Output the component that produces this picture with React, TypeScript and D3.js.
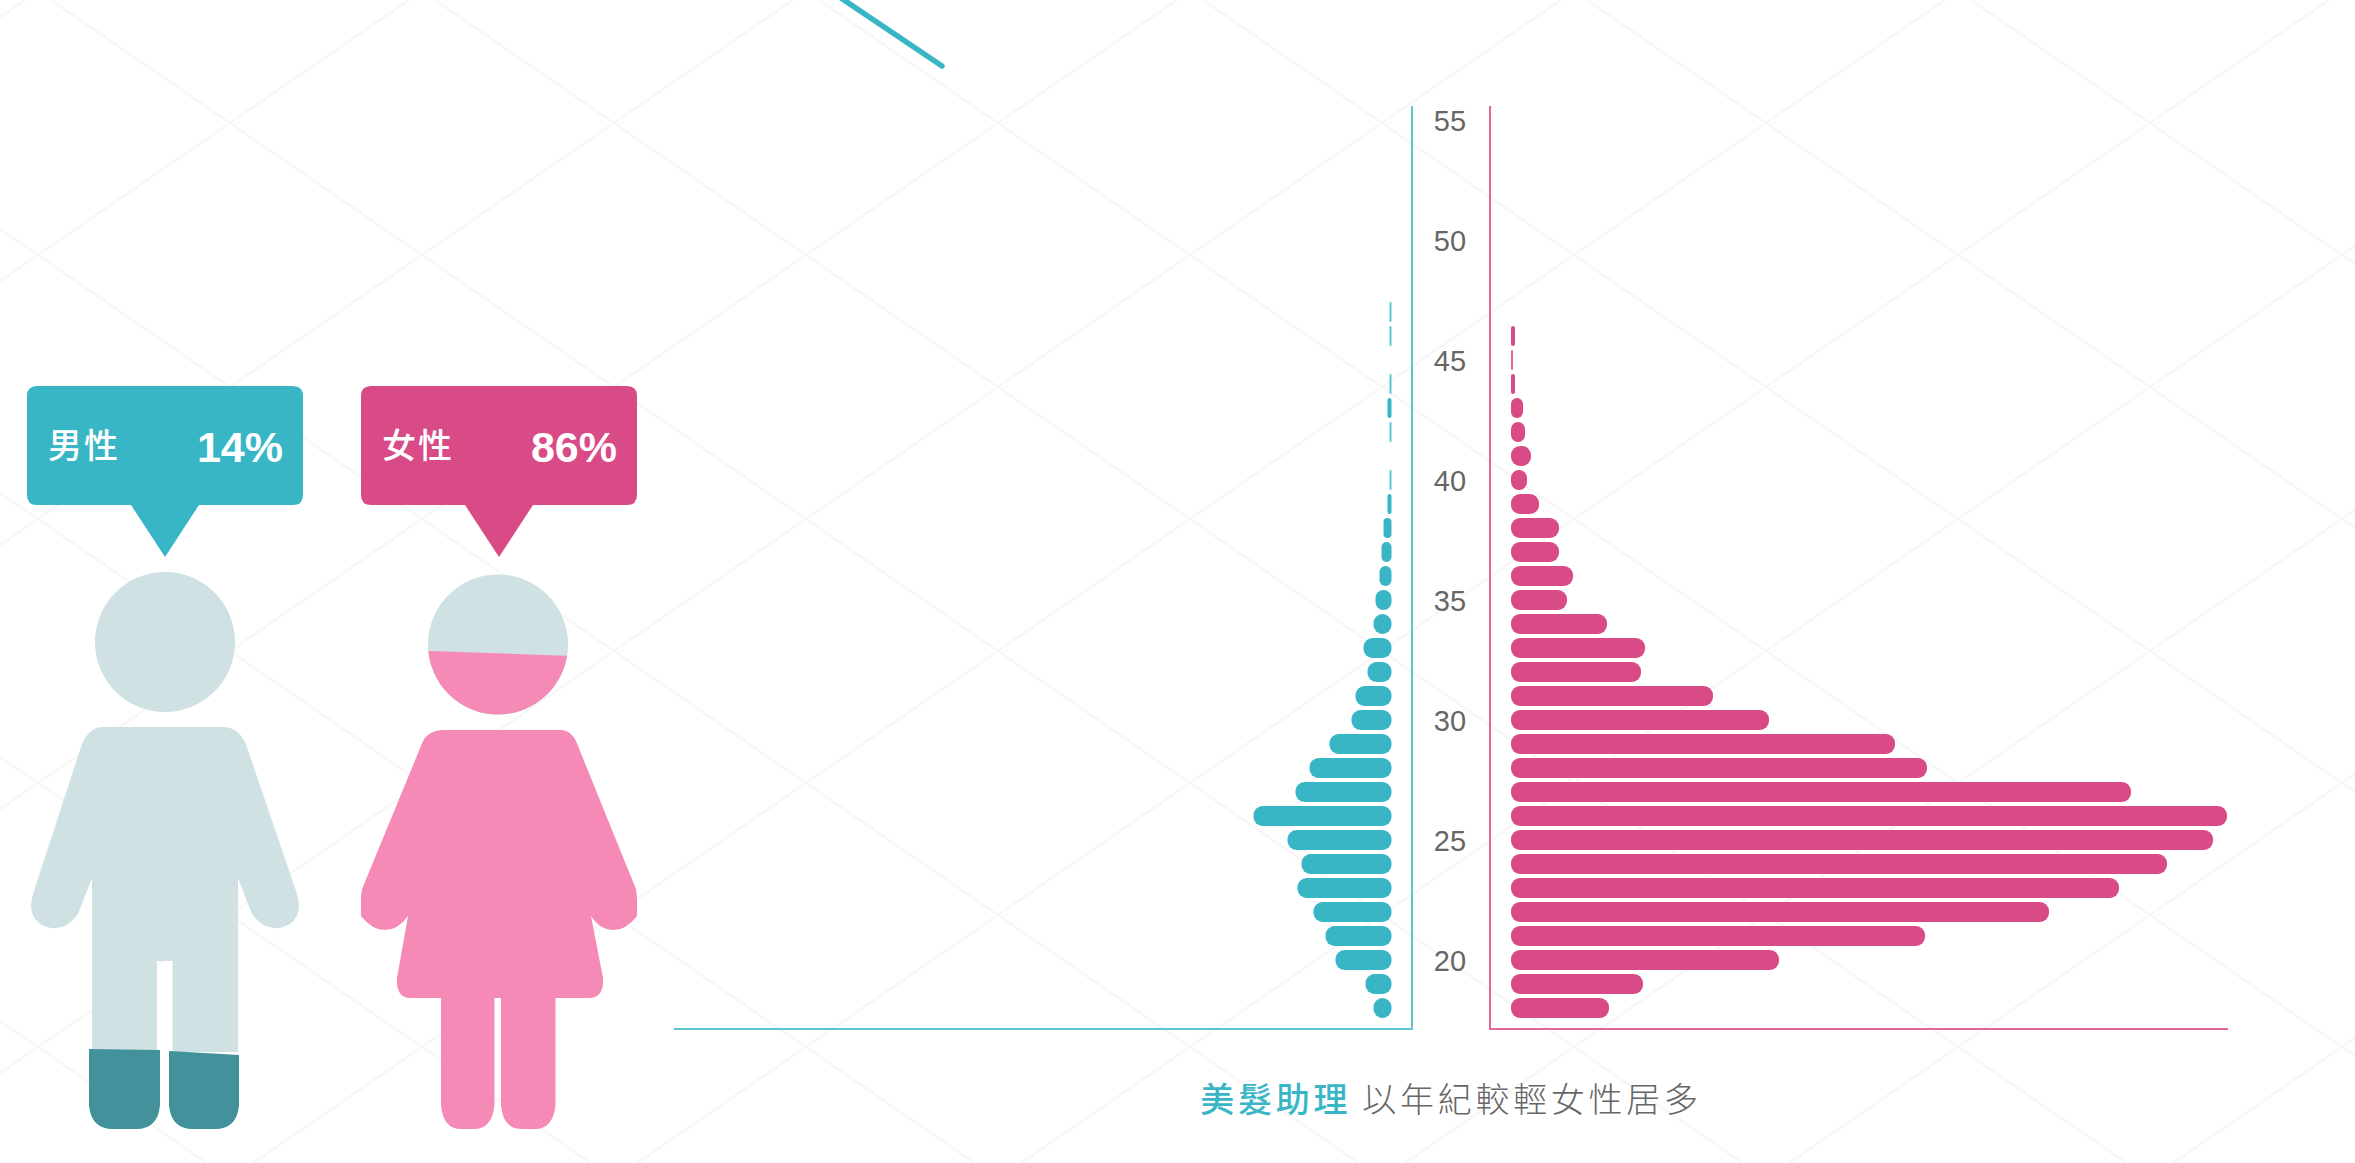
import React from "react";
import * as d3 from "d3";

const ages = [18,19,20,21,22,23,24,25,26,27,28,29,30,31,32,33,34,35,36,37,38,39,40,41,42,43,44,45,46,47];
const maleCounts = [9,13,28,33,39,47,45,52,69,48,41,31,20,18,12,14,9,8,6,5,4,2,1,0,1,2,1,0,1,1];
const femaleCounts = [49,66,134,207,269,304,328,351,358,310,208,192,129,101,65,67,48,28,31,24,24,14,8,10,7,6,2,1,2,0];
const ageTicks = [20,25,30,35,40,45,50,55];
const maleLabel = "男性";
const femaleLabel = "女性";
const maleShare = 14;
const femaleShare = 86;
const captionLead = "美髮助理";
const captionRest = " 以年紀較輕女性居多";

const TEAL = "#39b6c6";
const PINK = "#d94b86";
const TEAL_AXIS = "#5cc4d2";
const PINK_AXIS = "#e2689b";
const LIGHT = "#cfe1e3";
const SOFT_PINK = "#f58ab7";
const DARK_TEAL = "#42919b";

const y = d3.scaleLinear().domain([20, 55]).range([960, 120]);
const w = d3.scaleLinear().domain([0, 369]).range([0, 738]);
const fillY = d3.scaleLinear().domain([0, 100]).range([1129, 572]);

const manBody =
  "M103 727 L223 727 Q241 727 248 750 L297 894 Q303 914 290 924 Q268 936 252 914 L238 878 L238 1052 L172.5 1052 L172.5 961 L157 961 L157 1052 L92 1052 L92 878 L78 914 Q62 936 40 924 Q27 914 33 894 L80 750 Q87 727 103 727 Z";
const womanBody =
  "M442 730 L562 730 Q571 731 576 741 L635.5 888 Q637 892 637 900 L637 916 Q626 930 614 930 Q600 930 591 916 L603 978 Q604 998 589 998 L555.5 998 L555.5 1105 Q553 1129 535 1129 L521 1129 Q503 1129 501 1105 L501 998 L494.5 998 L494.5 1105 Q492 1129 474 1129 L461 1129 Q443 1129 441 1105 L441 998 L410 998 Q396 998 397 978 L408 916 Q398 930 385 930 Q372 930 361 916 L361 900 Q361 892 362.5 888 L423 741 Q428 731 442 730 Z";

function boot(x0: number, x1: number, yTop0: number, yTop1: number) {
  const b = 1129;
  const r = 24;
  return `M${x0} ${yTop0} L${x1} ${yTop1} L${x1} ${b - r} Q${x1 - 2} ${b} ${x1 - r} ${b} L${x0 + r} ${b} Q${x0 + 2} ${b} ${x0} ${b - r} Z`;
}

function Bubble({ x, color, label, share }: { x: number; color: string; label: string; share: number }) {
  const cx = x + 138;
  const path = d3.path();
  const r = 10, top = 386, bot = 505, wd = 276;
  path.moveTo(x + r, top);
  path.lineTo(x + wd - r, top);
  path.quadraticCurveTo(x + wd, top, x + wd, top + r);
  path.lineTo(x + wd, bot - r);
  path.quadraticCurveTo(x + wd, bot, x + wd - r, bot);
  path.lineTo(cx + 34, bot);
  path.lineTo(cx, 557);
  path.lineTo(cx - 34, bot);
  path.lineTo(x + r, bot);
  path.quadraticCurveTo(x, bot, x, bot - r);
  path.lineTo(x, top + r);
  path.quadraticCurveTo(x, top, x + r, top);
  path.closePath();
  return (
    <g>
      <path d={path.toString()} fill={color} />
      <text x={x + 21} y={458} fontSize={34} fontWeight={500} fill="#fff" letterSpacing={2}
        fontFamily="'Noto Sans CJK TC', sans-serif">{label}</text>
      <text x={x + 256} y={462} fontSize={43} fontWeight={700} fill="#fff" textAnchor="end"
        fontFamily="'Liberation Sans', Arial, sans-serif">{share}%</text>
    </g>
  );
}

export default function App() {
  const manCut = fillY(maleShare);
  const womanCut = fillY(femaleShare);
  return (
    <svg width={2355} height={1163} viewBox="0 0 2355 1163"
      style={{ position: "absolute", left: 0, top: 0, display: "block", background: "#fff" }}>
      <defs>
        <pattern id="lattice" patternUnits="userSpaceOnUse" width={384} height={264} x={38} y={255}>
          <path d="M0 0 L192 132 L384 0 M0 264 L192 132 L384 264" fill="none" stroke="#f7f7f7" strokeWidth={2.5} />
        </pattern>
        <clipPath id="womanHeadCut">
          <polygon points={`400,${womanCut} 600,${womanCut + 7} 600,740 400,740`} />
        </clipPath>
      </defs>
      <rect width={2355} height={1163} fill="url(#lattice)" />

      <line x1={838} y1={-4} x2={942} y2={66} stroke={TEAL} strokeWidth={5.5} strokeLinecap="round" />

      <Bubble x={27} color={TEAL} label={maleLabel} share={maleShare} />
      <Bubble x={361} color={PINK} label={femaleLabel} share={femaleShare} />

      <circle cx={165} cy={642} r={70} fill={LIGHT} />
      <path d={manBody} fill={LIGHT} />
      <path d={boot(89, 160, manCut - 2, manCut - 1)} fill={DARK_TEAL} />
      <path d={boot(169, 239, manCut, manCut + 4)} fill={DARK_TEAL} />

      <circle cx={498} cy={644.5} r={70} fill={LIGHT} />
      <circle cx={498} cy={644.5} r={70} fill={SOFT_PINK} clipPath="url(#womanHeadCut)" />
      <path d={womanBody} fill={SOFT_PINK} />

      <path d={`M674 1029 L1412 1029 L1412 106`} fill="none" stroke={TEAL_AXIS} strokeWidth={2} />
      <path d={`M1490 106 L1490 1029 L2228 1029`} fill="none" stroke={PINK_AXIS} strokeWidth={2} />

      {ages.map((a, i) => {
        const len = w(maleCounts[i]);
        if (!len) return null;
        const r = Math.min(len / 2, 9);
        return <rect key={a} x={1391.5 - len} y={y(a) - 10} width={len} height={20} rx={r} ry={r} fill={len <= 2 ? TEAL_AXIS : TEAL} />;
      })}
      {ages.map((a, i) => {
        const len = w(femaleCounts[i]);
        if (!len) return null;
        const r = Math.min(len / 2, 9);
        return <rect key={a} x={1511} y={y(a) - 10} width={len} height={20} rx={r} ry={r} fill={len <= 2 ? PINK_AXIS : PINK} />;
      })}

      {ageTicks.map((t) => (
        <text key={t} x={1450} y={y(t) + 11} textAnchor="middle" fontSize={29} fill="#666"
          fontFamily="'Liberation Sans', Arial, sans-serif">{t}</text>
      ))}

      <text x={1451} y={1112} textAnchor="middle" fontSize={34} letterSpacing={3.7} fill="#666"
        fontFamily="'Noto Sans CJK TC', sans-serif" fontWeight={300} xmlSpace="preserve">
        <tspan fill={TEAL} fontWeight={500}>{captionLead}</tspan>{captionRest}
      </text>
    </svg>
  );
}
